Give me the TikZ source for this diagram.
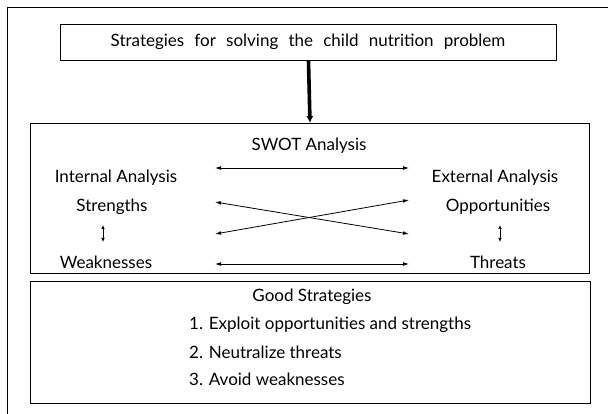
\documentclass[tikz,border=0pt]{standalone}
\usepackage{fontspec}
\setmainfont{Lato}
\usetikzlibrary{arrows.meta}
\begin{document}
\begin{tikzpicture}[x=1pt,y=-1pt,
  box/.style={draw,line width=1pt},
  txt/.style={inner sep=0pt,font=\fontsize{17}{20}\selectfont},
  link/.style={line width=0.8pt,{Latex[length=6pt,width=3.8pt]}-{Latex[length=6pt,width=3.8pt]}},
  vlink/.style={line width=0.9pt,{Latex[length=4pt,width=3.6pt]}-{Latex[length=4pt,width=3.6pt]}}]
\useasboundingbox (0,0) rectangle (608,414);
% outer frame (cropped)
\draw[line width=1pt] (7,414) -- (7,8) -- (608,8);
% boxes
\node[box,minimum width=496pt,minimum height=36pt,inner sep=0pt,anchor=north west] (top) at (60,24) {};
\node[txt] (toptxt) at (308,42) {\spaceskip=0.6em plus 0.1em Strategies for solving the child nutrition problem};
\node[box,minimum width=559pt,minimum height=150pt,inner sep=0pt,anchor=north west] (swot) at (30,123) {};
\node[box,minimum width=560pt,minimum height=122pt,inner sep=0pt,anchor=north west] (good) at (30,281) {};
\draw[line width=3.6pt,-{Latex[length=7pt,width=7pt]}] (top.south) -- (swot.north);
% SWOT texts
\node[txt] (swott) at (309,146) {SWOT Analysis};
\node[txt] (int) at (116,178) {Internal Analysis};
\node[txt] (ext) at (495,178) {External Analysis};
\node[txt] (str) at (112,207) {Strengths};
\node[txt] (opp) at (498,207) {Opportunities};
\node[txt] (wea) at (106,262) {Weaknesses};
\node[txt] (thr) at (498,262) {Threats};
% arrow end points
\coordinate (a1) at (215,168); \coordinate (b1) at (409,168);
\coordinate (a2) at (215,202); \coordinate (b2) at (409,234);
\coordinate (a3) at (215,234); \coordinate (b3) at (409,200);
\coordinate (a4) at (215,264); \coordinate (b4) at (409,264);
\draw[link] (a1) -- (b1);
\draw[link] (a2) -- (b2);
\draw[link] (a3) -- (b3);
\draw[link] (a4) -- (b4);
\coordinate (sl1) at (103,225); \coordinate (sl2) at (103,242);
\coordinate (sr1) at (500,225); \coordinate (sr2) at (500,242);
\draw[vlink] (sl1) -- (sl2);
\draw[vlink] (sr1) -- (sr2);
% Good strategies
\node[txt] (gs) at (312,297) {Good Strategies};
\node[txt,anchor=west] (g1) at (189,325) {1. Exploit opportunities and strengths};
\node[txt,anchor=west] (g2) at (189,352) {2. Neutralize threats};
\node[txt,anchor=west] (g3) at (189,379) {3. Avoid weaknesses};
\end{tikzpicture}
\end{document}
